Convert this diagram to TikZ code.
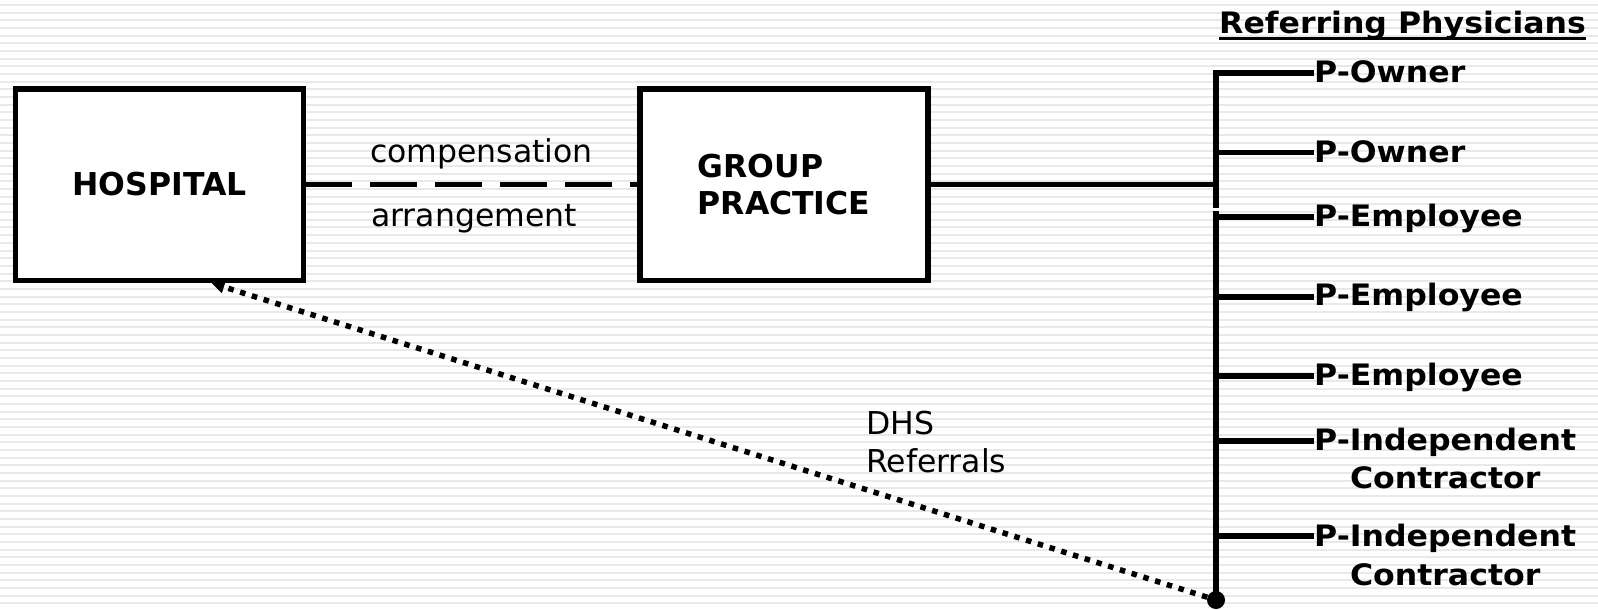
\documentclass[tikz,border=0pt]{standalone}
\usepackage{fontspec}
\setmainfont{DejaVu Sans}
\newfontfamily\brfont[FakeStretch=1.07]{DejaVu Sans}
\usetikzlibrary{arrows.meta,calc}
\begin{document}
\begin{tikzpicture}[x=1pt,y=-1pt,
  stripe/.style={line width=2pt, draw=gray!17},
  box/.style={draw=black, fill=white, line width=5.5pt, rectangle, minimum width=288pt, minimum height=191.5pt, inner sep=0pt, font=\fontsize{31.5}{37.4}\selectfont\bfseries},
  plain/.style={inner sep=0pt, font=\fontsize{31.5}{37.5}\selectfont},
  doc/.style={inner sep=0pt, font=\brfont\bfseries\fontsize{29.5}{38.3}\selectfont},
  wire/.style={line width=5.5pt},
  dashwire/.style={line width=5.5pt, dash pattern=on 47pt off 18pt, dash phase=1pt},
  dotwire/.style={line width=5.5pt, dash pattern=on 5.5pt off 6.8pt, -{Triangle[length=13pt,width=12pt]}},
  dotnode/.style={circle, fill=black, inner sep=0pt, minimum size=18pt}
]
\fill[white] (0,0) rectangle (1598,610);
\useasboundingbox (0,0) rectangle (1598,610);
\foreach \k in {0,...,79} \draw[stripe] (0,5+7.672*\k) -- (1598,5+7.672*\k);

% boxes
\node[box] (hosp) at (159.5,184.5) {HOSPITAL};
\node[box, align=left] (grp) at (784,184.5) {GROUP\\PRACTICE};
\draw[dashwire] (hosp.east) -- (grp.west);
\node[plain, anchor=base west] (comp) at (370,162.3) {compensation};
\node[plain, anchor=base west] (arr) at (371,226) {arrangement};

% header
\node[doc, anchor=base west] (rp) at (1219,33.3) {Referring Physicians};
\draw[line width=3.5pt] ([yshift=-5pt]rp.base west) -- ([yshift=-5pt]rp.base east);

% physician labels
\node[doc, anchor=base west] (o1) at (1314,82.7) {P-Owner};
\node[doc, anchor=base west] (o2) at (1314,162.7) {P-Owner};
\node[doc, anchor=base west] (e1) at (1314,226.7) {P-Employee};
\node[doc, anchor=base west] (e2) at (1314,305.5) {P-Employee};
\node[doc, anchor=base west] (e3) at (1314,385) {P-Employee};
\node[doc, anchor=north west, align=center] (i1) at (1314,427.6) {P-Independent\\Contractor};
\node[doc, anchor=north west, align=center] (i2) at (1314,524.3) {P-Independent\\Contractor};

% bus
\coordinate (btop) at (1216,73);
\coordinate (bmid) at (1216,208);
\coordinate (bj) at (1216,184.5);
\coordinate (blo) at (1216,211);
\coordinate (b2) at (1216,152.7);
\coordinate (b3) at (1216,217);
\coordinate (b4) at (1216,297);
\coordinate (b5) at (1216,376);
\coordinate (b6) at (1216,441);
\coordinate (b7) at (1216,536);
\node[dotnode] (dot) at (1216,600) {};

\draw[wire] (bmid) -- (btop) -- (btop -| o1.west);
\draw[wire] (b2) -- (b2 -| o2.west);
\draw[wire] (grp.east) -- (bj);
\draw[wire] (dot.center) -- (blo);
\draw[wire] (b3) -- (b3 -| e1.west);
\draw[wire] (b4) -- (b4 -| e2.west);
\draw[wire] (b5) -- (b5 -| e3.west);
\draw[wire] (b6) -- (b6 -| i1.west);
\draw[wire] (b7) -- (b7 -| i2.west);

% referrals
\draw[dotwire] (dot) -- ($(hosp.south west)!0.677!(hosp.south east)$);
\node[plain, anchor=north west, align=left] (dhs) at (866,411.3) {DHS\\Referrals};
\end{tikzpicture}
\end{document}
